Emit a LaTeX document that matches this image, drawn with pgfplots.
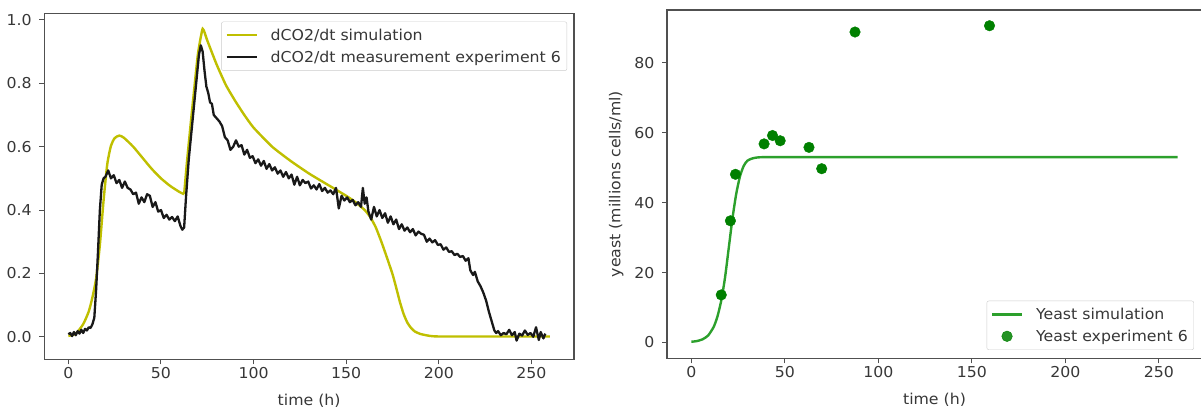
\documentclass[border=0pt]{standalone}
\usepackage{fontspec}
\setmainfont{DejaVu Sans}[FakeStretch=1.05]
\usepackage{pgfplots}
\pgfplotsset{compat=1.18}

\definecolor{simyellow}{RGB}{191,191,0}
\definecolor{yeastline}{RGB}{44,160,44}
\definecolor{yeastdot}{RGB}{0,128,0}
\definecolor{txt}{RGB}{55,55,55}
\definecolor{spine}{RGB}{80,80,80}

\pgfplotsset{
  mpl/.style={
    scale only axis,
    font=\fontsize{15pt}{18pt}\selectfont,
    every tick label/.append style={text=txt},
    yticklabel style={xshift=-4pt},
    label style={text=txt},
    /pgf/number format/assume math mode=true,
    axis line style={spine, line width=1.2pt},
    tick align=outside,
    xtick pos=bottom, ytick pos=left,
    major tick length=5pt,
    every tick/.style={spine, line width=1pt},
    xlabel={time (h)},
    xlabel style={yshift=-8pt},
    xmin=-13, xmax=273,
    xtick={0,50,...,250},
    legend cell align=left,
    legend style={draw=black!20, rounded corners=2pt, fill=white, fill opacity=0.85, text opacity=1,
                  inner xsep=4pt, inner ysep=5pt, row sep=5pt, font=\fontsize{15pt}{18pt}\selectfont, text=txt},
  },
  mpl line key/.style={legend image code/.code={
      \path[draw=none, fill=none] (0pt,0pt) -- (42pt,0pt);
      \draw[##1] (0pt,0pt) -- (30pt,0pt);}},
  mpl dot key/.style={legend image code/.code={
      \path[draw=none, fill=none] (0pt,0pt) -- (42pt,0pt);
      \draw[##1] plot[only marks] coordinates {(15pt,0pt)};}},
}

\begin{document}
\begin{tikzpicture}
\useasboundingbox (0pt,0pt) rectangle (1201pt,411pt);

% ---- carbon dioxide production rate ----
\begin{axis}[mpl,
  at={(44.3pt,51.7pt)}, anchor=south west,
  width=529.7pt, height=346pt,
  ymin=-0.071, ymax=1.021,
  ytick={0,0.2,...,1.0},
  yticklabel style={/pgf/number format/fixed, /pgf/number format/fixed zerofill, /pgf/number format/precision=1},
  legend style={at={(0.987,0.976)}, anchor=north east},
]
\addplot[simyellow, line width=2.4pt, smooth, tension=0.4, mpl line key] coordinates {
(0,0.003) (4,0.01) (8,0.04) (11,0.08) (13,0.125) (15,0.185) (17,0.29) (19,0.43) (21,0.545)
(23,0.603) (25,0.627) (27.5,0.635) (30,0.628) (35,0.60) (40,0.565) (45,0.53) (50,0.50)
(55,0.476) (60,0.457) (62.5,0.45)
};
\addplot[simyellow, line width=2.4pt, smooth, tension=0.3, forget plot] coordinates {
(62.5,0.45) (64,0.55) (66,0.67) (68,0.785) (70,0.895) (72.5,0.972) (75,0.935) (80,0.86)
(85,0.795) (90,0.745) (95,0.70) (100,0.66) (110,0.60) (120,0.555) (130,0.515) (140,0.48)
(150,0.445) (155,0.425) (160,0.40) (163,0.378) (166,0.345) (169,0.30) (172,0.25) (175,0.198)
(177,0.155) (179,0.11) (181,0.072) (183,0.045) (185,0.028) (187,0.017) (190,0.009)
(195,0.003) (200,0.001) (230,0.001) (260,0.001)
};
\addplot[black!90, line width=2.3pt, line join=round, mpl line key] coordinates {
(0,0.008) (1,0.012) (2,0.002) (3,0.015) (4,0.005) (5,0.018) (6,0.010) (7,0.022) (8,0.012)
(9,0.025) (10,0.020) (11,0.030) (12,0.028) (13,0.040) (14,0.060) (15,0.150) (16,0.270)
(17,0.400) (18,0.480) (19,0.500) (20,0.505) (21.5,0.525) (23,0.500) (24.5,0.510) (26,0.485)
(27.5,0.495) (29,0.470) (30.5,0.490) (32,0.470) (33.5,0.465) (35,0.450) (36.5,0.455)
(38,0.420) (39.5,0.440) (41,0.425) (42.5,0.450) (44,0.445) (45.5,0.410) (47,0.425)
(48.5,0.395) (50,0.400) (51.5,0.375) (53,0.385) (54.5,0.370) (56,0.378) (57.5,0.365)
(59,0.380) (60.5,0.350) (61.5,0.338) (62.5,0.345) (63.5,0.440) (65,0.560) (66.5,0.650)
(68,0.740) (69.5,0.830) (70.5,0.890) (71.5,0.920) (72.5,0.900) (73.5,0.840) (74.5,0.790)
(75.5,0.770) (76.5,0.740) (77.5,0.735) (78.5,0.700) (80,0.690) (81.5,0.680) (83,0.665)
(84.5,0.630) (86,0.620) (87.5,0.590) (89,0.600) (90.5,0.620) (92,0.600) (93.5,0.605)
(95,0.575) (96.5,0.590) (98,0.565) (99.5,0.570) (101,0.548) (102.5,0.560) (104,0.540)
(105.5,0.555) (107,0.530) (108.5,0.545) (110,0.525) (111.5,0.535) (113,0.515) (114.5,0.525)
(116,0.505) (117.5,0.520) (119,0.500) (120.5,0.512) (122,0.480) (123.5,0.505) (125,0.478)
(126.5,0.495) (128,0.485) (129.5,0.490) (131,0.468) (132.5,0.478) (134,0.465) (135.5,0.482)
(137,0.460) (138.5,0.470) (140,0.455) (141.5,0.462) (143,0.450) (144.5,0.470) (146,0.405)
(147.5,0.445) (149,0.430) (150.5,0.440) (152,0.425) (153.5,0.432) (155,0.415) (156.5,0.425)
(158,0.410) (159,0.470) (160,0.420) (161,0.440) (162,0.395) (163.5,0.370) (165,0.410)
(166.5,0.380) (168,0.400) (169.5,0.375) (171,0.390) (172.5,0.360) (174,0.380) (175.5,0.355)
(177,0.370) (178.5,0.340) (180,0.355) (181.5,0.335) (183,0.345) (184.5,0.330) (186,0.340)
(187.5,0.320) (189,0.332) (190.5,0.325) (192,0.322) (193.5,0.300) (195,0.310) (196.5,0.298)
(198,0.305) (199.5,0.290) (201,0.292) (202.5,0.275) (204,0.282) (205.5,0.268) (207,0.270)
(208.5,0.258) (210,0.262) (211.5,0.252) (213,0.255) (214.5,0.240) (216,0.248) (217,0.210)
(218.5,0.195) (219.5,0.205) (221,0.175) (222.5,0.160) (224,0.140) (225.5,0.115) (227,0.080)
(228.5,0.050) (230,0.020) (231,0.012) (232,0.018) (233.5,0.005) (235,0.012) (236.5,0.008)
(238,0.022) (239.5,0.005) (241,0.015) (242,-0.012) (243.5,0.010) (245,0.004) (246.5,0.020)
(248,0.006) (249.5,0.012) (251,0.000) (252.5,0.030) (254,-0.010) (255,0.015) (256.5,-0.005)
(257.5,0.010)
};
\legend{dCO2/dt simulation, dCO2/dt measurement experiment 6}
\end{axis}

% ---- yeast population ----
\begin{axis}[mpl,
  at={(667pt,52.7pt)}, anchor=south west,
  width=535pt, height=348.3pt,
  ymin=-4.53, ymax=95.1,
  ytick={0,20,...,80},
  ylabel={yeast (millions cells/ml)},
  ylabel style={yshift=4pt},
  legend style={at={(0.985,0.024)}, anchor=south east},
]
\addplot[yeastline, line width=2.4pt, smooth, tension=0.4, mpl line key] coordinates {
(0,0.2) (3,0.4) (6,0.9) (9,2.0) (12,4.5) (14,7.5) (16,12) (18,18.5) (20,27) (22,35.5)
(24,42.5) (26,47.5) (28,50.5) (30,52) (33,52.7) (38,53) (60,53) (260,53)
};
\addplot[only marks, mark=*, mark size=5.3pt, yeastdot, mark options={draw=yeastdot, fill=yeastdot}, mpl dot key] coordinates {
(16,13.6) (20.9,34.8) (23.6,48.1) (38.9,56.8) (43.4,59.2) (47.5,57.7) (62.9,55.8)
(69.7,49.7) (87.5,88.8) (159.4,90.6)
};
\legend{Yeast simulation, Yeast experiment 6}
\end{axis}
\end{tikzpicture}
\end{document}
